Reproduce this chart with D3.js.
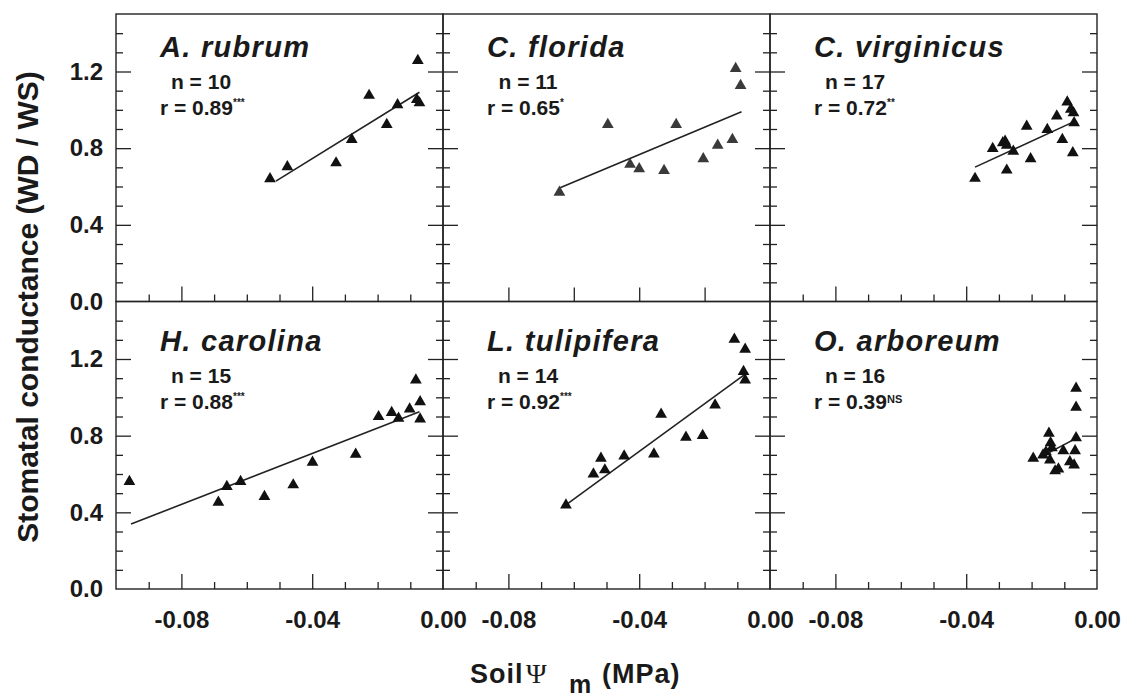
<!DOCTYPE html>
<html lang="en">
<head>
<meta charset="utf-8">
<title>Stomatal conductance vs soil water potential</title>
<style>
  body { margin:0; background:#fff; }
  svg { font-family: 'Liberation Sans', Arial, sans-serif; }
  .tick text { font-weight:bold; font-size:24px; fill:#1a1a1a; }
  .lbl { font-weight:bold; fill:#1a1a1a; }
</style>
</head>
<body>
<div id="chart"></div>
<script src="https://cdnjs.cloudflare.com/ajax/libs/d3/7.8.5/d3.min.js"></script>
<script>
// species, stats
var species = ["A. rubrum", "C. florida", "C. virginicus", "H. carolina", "L. tulipifera", "O. arboreum"];
var nValues = [10, 11, 17, 15, 14, 16];
var rValues = ["0.89", "0.65", "0.72", "0.88", "0.92", "0.39"];
var rSig = ["***", "*", "**", "***", "***", "NS"];

// [soil psi (MPa), conductance ratio]
var rubrum = [[-0.0529,0.640],[-0.0476,0.703],[-0.0327,0.723],[-0.0279,0.845],[-0.0226,1.075],[-0.0172,0.923],[-0.0139,1.026],[-0.0077,1.257],[-0.0080,1.054],[-0.0072,1.036]];
var florida = [[-0.0644,0.570],[-0.0496,0.923],[-0.0428,0.715],[-0.0400,0.692],[-0.0324,0.683],[-0.0287,0.923],[-0.0204,0.744],[-0.0160,0.815],[-0.0115,0.845],[-0.0105,1.215],[-0.0090,1.127]];
var virginicus = [[-0.0373,0.642],[-0.0319,0.798],[-0.0288,0.828],[-0.0281,0.836],[-0.0276,0.815],[-0.0276,0.685],[-0.0256,0.784],[-0.0215,0.914],[-0.0203,0.744],[-0.0152,0.897],[-0.0123,0.967],[-0.0106,0.845],[-0.0091,1.040],[-0.0080,1.002],[-0.0072,0.984],[-0.0070,0.932],[-0.0074,0.776]];
var carolina = [[-0.0959,0.560],[-0.0687,0.452],[-0.0661,0.534],[-0.0619,0.560],[-0.0546,0.482],[-0.0458,0.543],[-0.0399,0.661],[-0.0267,0.703],[-0.0197,0.899],[-0.0157,0.920],[-0.0136,0.890],[-0.0102,0.939],[-0.0083,1.090],[-0.0070,0.977],[-0.0070,0.887]];
var tulipifera = [[-0.0624,0.438],[-0.0540,0.600],[-0.0517,0.682],[-0.0505,0.621],[-0.0446,0.694],[-0.0355,0.704],[-0.0333,0.911],[-0.0257,0.791],[-0.0206,0.800],[-0.0168,0.960],[-0.0109,1.303],[-0.0076,1.250],[-0.0081,1.134],[-0.0076,1.090]];
var arboreum = [[-0.0064,1.047],[-0.0064,0.948],[-0.0147,0.812],[-0.0064,0.789],[-0.0142,0.763],[-0.0138,0.736],[-0.0103,0.721],[-0.0067,0.721],[-0.0195,0.682],[-0.0165,0.699],[-0.0144,0.673],[-0.0118,0.626],[-0.0083,0.664],[-0.0070,0.647],[-0.0128,0.616],[-0.0156,0.715]];

// regression line ends [x1, y1, x2, y2]
var fits = [
  [-0.0511,0.628,-0.0072,1.092],
  [-0.0642,0.593,-0.0087,0.990],
  [-0.0373,0.701,-0.0067,0.941],
  [-0.0954,0.339,-0.0072,0.925],
  [-0.0622,0.442,-0.0080,1.116],
  [-0.0174,0.687,-0.0064,0.786]
];

var yTickLabels = [0, 0.4, 0.8, 1.2];
var xTickLabels = [-0.08, -0.04, 0];

var dataSets = [rubrum, florida, virginicus, carolina, tulipifera, arboreum];

var margin = {left:116, top:14}, pw = 327, ph = 287.5;

var svg = d3.select("#chart").append("svg")
    .attr("width", 1127)
    .attr("height", 698);

var x = d3.scaleLinear().domain([-0.1, 0]).range([0, pw]),
    y = d3.scaleLinear().domain([0, 1.5]).range([ph, 0]);

var xMajor = [-0.08, -0.04],
    xMinor = [-0.09, -0.07, -0.06, -0.05, -0.03, -0.02, -0.01],
    xEven = [-0.08, -0.06, -0.04, -0.02],
    yMajor = [0.4, 0.8, 1.2],
    yMinor = [0.1, 0.2, 0.3, 0.5, 0.6, 0.7, 0.9, 1.0, 1.1, 1.3, 1.4];

var fmt = function(d) { return d3.format(".2f")(d).replace("\u2212", "-"); };

function ticks(g, axis) {
  g.call(axis.tickFormat(""));
  g.select(".domain").remove();
  g.selectAll("line").attr("stroke", "#222").attr("stroke-width", 1.3);
}

species.forEach(function(name, i) {
  var col = i % 3, row = Math.floor(i / 3);
  var g = svg.append("g")
      .attr("transform", "translate(" + (margin.left + col * pw) + "," + (margin.top + row * ph) + ")");

  // bottom ticks
  if (i === 1) {
    g.append("g").attr("transform", "translate(0," + ph + ")")
      .call(ticks, d3.axisBottom(x).tickValues(xEven).tickSize(-14));
  } else {
    g.append("g").attr("transform", "translate(0," + ph + ")")
      .call(ticks, d3.axisBottom(x).tickValues(xMajor).tickSize(-15));
    g.append("g").attr("transform", "translate(0," + ph + ")")
      .call(ticks, d3.axisBottom(x).tickValues(xMinor).tickSize(-7));
  }
  // left/right ticks
  g.append("g").call(ticks, d3.axisLeft(y).tickValues(yMajor).tickSize(-15));
  g.append("g").call(ticks, d3.axisLeft(y).tickValues(yMinor).tickSize(-7));
  g.append("g").attr("transform", "translate(" + pw + ",0)")
    .call(ticks, d3.axisRight(y).tickValues(yMajor).tickSize(-15));
  g.append("g").attr("transform", "translate(" + pw + ",0)")
    .call(ticks, d3.axisRight(y).tickValues(yMinor).tickSize(-7));

  // tick labels
  if (col === 0) {
    g.append("g")
      .call(d3.axisLeft(y).tickValues(yTickLabels).tickSize(0).tickPadding(13).tickFormat(d3.format(".1f")))
      .select(".domain").remove();
  }
  if (row === 1) {
    g.append("g").attr("transform", "translate(0," + ph + ")")
      .call(d3.axisBottom(x).tickValues(xTickLabels).tickSize(0).tickPadding(22).tickFormat(fmt))
      .select(".domain").remove();
  }

  g.append("rect")
    .attr("width", pw).attr("height", ph)
    .attr("fill", "none").attr("stroke", "#222").attr("stroke-width", 1.4);

  // fit line
  var f = fits[i];
  g.append("line")
    .attr("x1", x(f[0])).attr("y1", y(f[1]))
    .attr("x2", x(f[2])).attr("y2", y(f[3]))
    .attr("stroke", "#222").attr("stroke-width", 1.6);

  // points
  g.selectAll("path.pt")
    .data(dataSets[i])
  .enter().append("path")
    .attr("class", "pt")
    .attr("d", d3.symbol().type(d3.symbolTriangle).size(60))
    .attr("transform", function(d) { return "translate(" + x(d[0]) + "," + y(d[1]) + ")"; })
    .attr("fill", i === 1 ? "#3a3a3a" : "#111");

  // labels
  var ly = row === 0 ? 43 : 49;
  g.append("text").attr("class", "lbl")
    .attr("x", 44).attr("y", ly)
    .style("font-size", "29px").style("font-style", "italic").style("letter-spacing", "1.3px")
    .text(name);

  g.append("text").attr("class", "lbl")
    .attr("x", 85).attr("y", ly + 32)
    .style("font-size", "21px").style("text-anchor", "middle")
    .text("n = " + nValues[i]);

  var rt = g.append("text").attr("class", "lbl")
    .attr("x", 44).attr("y", ly + 58)
    .style("font-size", "21px")
    .text("r = " + rValues[i]);
  rt.append("tspan")
    .attr("dy", rSig[i] === "NS" ? -6 : -9)
    .style("font-size", rSig[i] === "NS" ? "11px" : "10px")
    .text(rSig[i]);
});

// axis titles
svg.append("text").attr("class", "lbl")
  .attr("transform", "translate(38,307) rotate(-90)")
  .style("font-size", "30px").style("text-anchor", "middle")
  .text("Stomatal conductance (WD / WS)");

var xt = svg.append("text").attr("class", "lbl")
  .attr("x", 470).attr("y", 683)
  .style("font-size", "27px").style("letter-spacing", "1px");
xt.append("tspan").text("Soil");
xt.append("tspan").attr("x", 526)
  .style("font-family", "'Liberation Serif', 'DejaVu Serif', serif").style("font-weight", "normal")
  .style("font-size", "28px")
  .text("\u03A8");
xt.append("tspan").attr("x", 569).attr("dy", 10).style("font-size", "25px").text("m");
xt.append("tspan").attr("x", 602).attr("dy", -10).text("(MPa)");
</script>
</body>
</html>
